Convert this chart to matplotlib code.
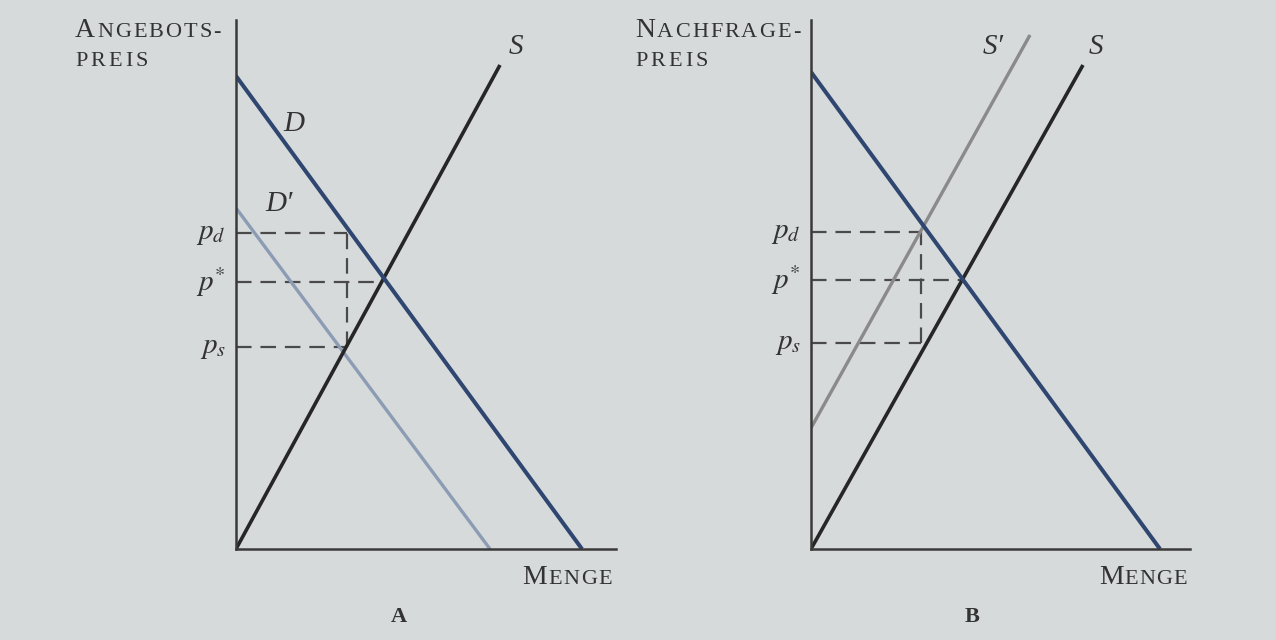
"""Tax incidence diagrams: (A) tax shifts demand, (B) tax shifts supply."""

import matplotlib

matplotlib.use("Agg")
import matplotlib.pyplot as plt

plt.rcParams["mathtext.fontset"] = "stix"
SERIF = "Liberation Serif"

# Panel A (demand shifted by the tax) -- line endpoints (quantity, price)
a_demand_q = [0.0, 34.6]
a_demand_p = [47.3, 0.0]
a_supply_q = [0.0, 26.4]
a_supply_p = [0.0, 48.4]
a_demand2_q = [0.0, 25.4]
a_demand2_p = [34.1, 0.0]
a_pd, a_pstar, a_ps = 31.6, 26.7, 20.2
a_qtax, a_qstar = 11.1, 14.7

# Panel B (supply shifted by the tax)
b_demand_q = [0.0, 34.9]
b_demand_p = [47.7, 0.0]
b_supply_q = [0.0, 27.2]
b_supply_p = [0.0, 48.4]
b_supply2_q = [0.0, 21.9]
b_supply2_p = [12.1, 51.4]
b_pd, b_pstar, b_ps = 31.7, 26.9, 20.6
b_qtax, b_qstar = 11.0, 15.1

BG = "#d7dadb"
AXIS = "#3a3a3a"
TEXT = "#333333"
DASH = "#4a4a4a"
W, H = 1276, 640


def smallcaps(fig, x, y, word, big=20, small=16, track=2.0):
    """Draw a word in letter-spaced small caps from pixel (x, y) (baseline)."""
    r = fig.canvas.get_renderer()
    for i, ch in enumerate(word):
        size = big if i == 0 else small
        t = fig.text(x / W, 1 - y / H, ch, fontsize=size, family=SERIF,
                     color=TEXT, va="baseline", ha="left")
        x = t.get_window_extent(renderer=r).x1 + track


def panel(fig, left_px, width_px, demand, supply, shifted, shifted_color,
          pd, pstar, ps, qtax, qstar):
    ax = fig.add_axes([left_px / W, (H - 549) / H, width_px / W, 529 / H])
    ax.set_xlim(0, width_px / 10)
    ax.set_ylim(0, 52.9)
    ax.set_facecolor("none")
    for side in ("top", "right"):
        ax.spines[side].set_visible(False)
    for side in ("left", "bottom"):
        ax.spines[side].set_color(AXIS)
        ax.spines[side].set_linewidth(1.8)
    ax.set_xticks([])
    ax.set_yticks([])

    dash = dict(color=DASH, lw=1.6, dashes=(7, 4), solid_capstyle="butt")
    ax.plot([0, qtax], [pd, pd], **dash)
    ax.plot([0, qstar], [pstar, pstar], **dash)
    ax.plot([0, qtax], [ps, ps], **dash)
    ax.plot([qtax, qtax], [ps, pd], **dash)

    ax.plot(*shifted, color=shifted_color, lw=2.4, solid_capstyle="butt")
    ax.plot(*supply, color="#262626", lw=2.6, solid_capstyle="butt")
    ax.plot(*demand, color="#2f4670", lw=2.9, solid_capstyle="butt")

    for val, lab in ((pd, r"$p_d$"), (pstar, r"$p^{*}$"), (ps, r"$p_s$")):
        ax.text(-1.0, val, lab, fontsize=21, color=TEXT, ha="right",
                va="center", clip_on=False)
    return ax


fig = plt.figure(figsize=(W / 100, H / 100), dpi=100, facecolor=BG)

ax_a = panel(fig, 236, 380, (a_demand_q, a_demand_p), (a_supply_q, a_supply_p),
             (a_demand2_q, a_demand2_p), "#8b9cb4",
             a_pd, a_pstar, a_ps, a_qtax, a_qstar)
ax_b = panel(fig, 811, 379, (b_demand_q, b_demand_p), (b_supply_q, b_supply_p),
             (b_supply2_q, b_supply2_p), "#8a8a8a",
             b_pd, b_pstar, b_ps, b_qtax, b_qstar)

italic = dict(family=SERIF, style="italic", fontsize=21, color=TEXT,
              ha="center", va="center")
ax_a.text(5.8, 42.5, "D", **italic)
ax_a.text(4.3, 34.5, "D\u2032", **italic)
ax_a.text(28.0, 50.2, "S", **italic)
ax_b.text(18.2, 50.2, "S\u2032", **italic)
ax_b.text(28.5, 50.2, "S", **italic)

smallcaps(fig, 75, 37, "ANGEBOTS-")
smallcaps(fig, 75, 66, "PREIS", big=16, track=3.0)
smallcaps(fig, 635, 37, "NACHFRAGE-")
smallcaps(fig, 635, 66, "PREIS", big=16, track=3.0)
smallcaps(fig, 522, 584, "MENGE", track=1.5)
smallcaps(fig, 1099, 584, "MENGE", track=1.0)

fig.text(399 / W, 1 - 617 / H, "A", family=SERIF, fontsize=16,
         fontweight="bold", color=TEXT, ha="center", va="center")
fig.text(972 / W, 1 - 617 / H, "B", family=SERIF, fontsize=16,
         fontweight="bold", color=TEXT, ha="center", va="center")

fig.savefig("out.png", dpi=100, facecolor=BG)
